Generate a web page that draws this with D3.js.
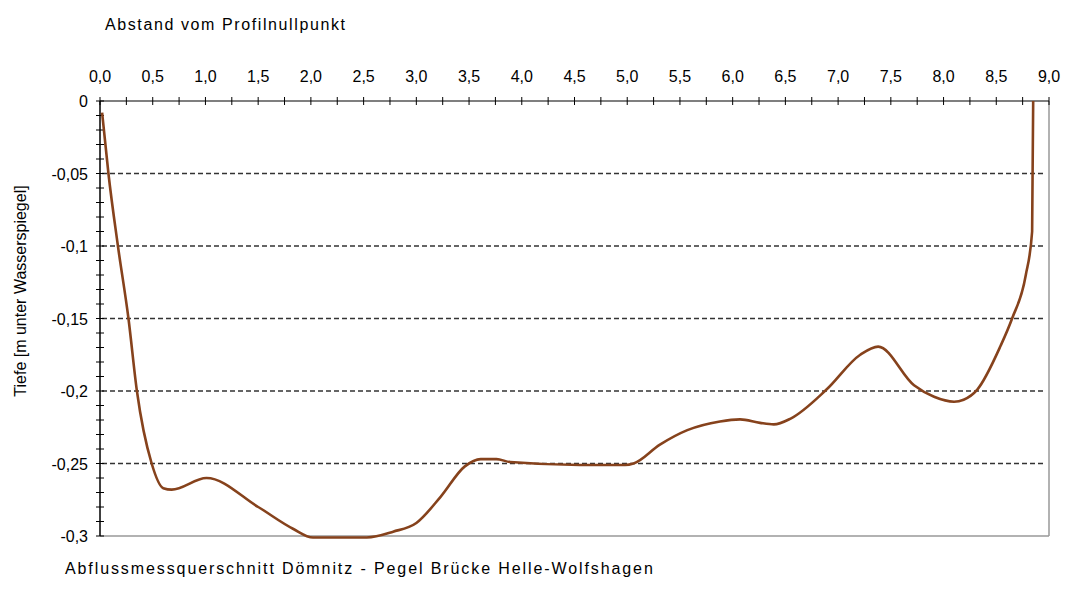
<!DOCTYPE html>
<html>
<head>
  <meta charset="UTF-8">
  <style>
    body { margin: 0; background: #fff; }
    text { font-family: "Liberation Sans", Arial, sans-serif; font-size: 16px; fill: #000; }
  </style>
</head>
<body>
<svg></svg>
<script src="https://d3js.org/d3.v7.min.js"></script>
<script>

let width = 1067, height = 589;

// Profil: Abstand [m] / Tiefe [m]
let abstand = [0.02, 0.08, 0.17, 0.27, 0.35, 0.49, 0.60, 0.68, 1.01, 1.50, 1.83, 2.02, 2.53, 2.78, 3.00, 3.23, 3.46, 3.61, 3.76, 3.89, 4.55, 4.98, 5.06, 5.31, 5.57, 5.88, 6.07, 6.26, 6.39, 6.55, 6.89, 7.21, 7.38, 7.72, 7.91, 8.10, 8.19, 8.32, 8.54, 8.65, 8.78, 8.84, 8.85];
let tiefe   = [-0.008, -0.05, -0.10, -0.15, -0.20, -0.25, -0.267, -0.268, -0.260, -0.280, -0.295, -0.301, -0.301, -0.297, -0.291, -0.273, -0.252, -0.247, -0.247, -0.249, -0.251, -0.251, -0.250, -0.237, -0.227, -0.221, -0.2196, -0.222, -0.223, -0.219, -0.199, -0.175, -0.1694, -0.196, -0.204, -0.2074, -0.206, -0.199, -0.169, -0.15, -0.12, -0.09, 0.0];

let xTicks = [0, 0.5, 1, 1.5, 2, 2.5, 3, 3.5, 4, 4.5, 5, 5.5, 6, 6.5, 7, 7.5, 8, 8.5, 9];
let yTicks = [0, -0.05, -0.1, -0.15, -0.2, -0.25, -0.3];
let gridLines = [-0.05, -0.1, -0.15, -0.2, -0.25];

let svg = d3.select("svg")
    .attr("width", width)
    .attr("height", height);

let x = d3.scaleLinear().domain([0, 9]).range([100, 1049]);
let y = d3.scaleLinear().domain([0, -0.3]).range([101, 536]);

let fmtX = d => d.toFixed(1).replace(".", ",");
let fmtY = d => d === 0 ? "0" : String(+d.toFixed(2)).replace(".", ",");

// gridlines
svg.append("g")
    .selectAll("line")
    .data(gridLines)
    .enter()
    .append("line")
    .attr("x1", x(0) + 2)
    .attr("x2", x(9) - 3)
    .attr("y1", d => y(d))
    .attr("y2", d => y(d))
    .style("stroke", "#333")
    .style("stroke-width", 1.3)
    .style("stroke-dasharray", "5,3");

// right & bottom border
svg.append("line")
    .attr("x1", x(9)).attr("x2", x(9))
    .attr("y1", y(0)).attr("y2", y(-0.3))
    .style("stroke", "#999").style("stroke-width", 1.5);
svg.append("line")
    .attr("x1", x(0)).attr("x2", x(9))
    .attr("y1", y(-0.3)).attr("y2", y(-0.3))
    .style("stroke", "#999").style("stroke-width", 1.5);

// top axis
svg.append("line")
    .attr("x1", x(0)).attr("x2", x(9))
    .attr("y1", y(0)).attr("y2", y(0))
    .style("stroke", "#000").style("stroke-width", 1.2);
svg.append("g")
    .selectAll("line")
    .data(d3.range(0, 37).map(i => i * 0.25))
    .enter()
    .append("line")
    .attr("x1", d => x(d)).attr("x2", d => x(d))
    .attr("y1", y(0) - 4).attr("y2", y(0) + 4)
    .style("stroke", "#000").style("stroke-width", 1);
svg.append("g")
    .selectAll("text")
    .data(xTicks)
    .enter()
    .append("text")
    .attr("x", d => x(d))
    .attr("y", 82)
    .attr("text-anchor", "middle")
    .text(fmtX);

// left axis
svg.append("line")
    .attr("x1", x(0)).attr("x2", x(0))
    .attr("y1", y(0)).attr("y2", y(-0.3))
    .style("stroke", "#000").style("stroke-width", 1.5);
svg.append("g")
    .selectAll("line")
    .data(d3.range(0, 31).map(i => -i * 0.01))
    .enter()
    .append("line")
    .attr("x1", x(0) - 4).attr("x2", x(0) + 4)
    .attr("y1", d => y(d)).attr("y2", d => y(d))
    .style("stroke", "#000").style("stroke-width", 1);
svg.append("g")
    .selectAll("text")
    .data(yTicks)
    .enter()
    .append("text")
    .attr("x", 88)
    .attr("y", d => y(d) + 6)
    .attr("text-anchor", "end")
    .text(fmtY);

// profile line
let pts = abstand.map((a, i) => [a, tiefe[i]]);
let line = d3.line()
    .x(d => x(d[0]))
    .y(d => y(d[1]))
    .curve(d3.curveMonotoneX);
svg.append("path")
    .datum(pts)
    .attr("d", line)
    .attr("fill", "none")
    .style("stroke", "#86421c")
    .style("stroke-width", 2.6)
    .style("stroke-linejoin", "round");

// titles
svg.append("text")
    .attr("x", 105).attr("y", 30)
    .style("letter-spacing", "1.6px")
    .text("Abstand vom Profilnullpunkt");
svg.append("text")
    .attr("transform", "translate(26,291) rotate(-90)")
    .attr("text-anchor", "middle")
    .text("Tiefe [m unter Wasserspiegel]");
svg.append("text")
    .attr("x", 65).attr("y", 574)
    .style("letter-spacing", "1.9px")
    .text("Abflussmessquerschnitt Dömnitz - Pegel Brücke Helle-Wolfshagen");

</script>
</body>
</html>
